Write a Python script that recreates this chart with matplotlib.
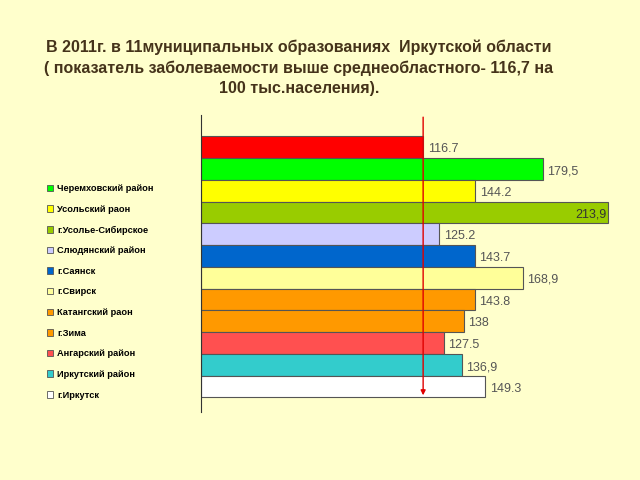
import matplotlib
matplotlib.use("Agg")
import matplotlib.pyplot as plt
from matplotlib.patches import Patch

plt.rcParams['font.family'] = ['Liberation Sans', 'DejaVu Sans']

# data, top bar first
values = [116.7, 179.5, 144.2, 213.9, 125.2, 143.7, 168.9, 143.8, 138, 127.5, 136.9, 149.3]
value_labels = ["116.7", "179,5", "144.2", "213,9", "125.2", "143.7", "168,9",
                "143.8", "138", "127.5", "136,9", "149.3"]
colors = ["#FF0000", "#00FF00", "#FFFF00", "#99CC00", "#CCCCFF", "#0066CC",
          "#FFFF99", "#FF9900", "#FF9900", "#FF5050", "#33CCCC", "#FFFFFF"]
# legend only covers the districts (bars 2..12)
districts = ["Черемховский район", "Усольский раон", "г.Усолье-Сибирское",
             "Слюдянский район", "г.Саянск", "г.Свирск", "Катангский раон",
             "г.Зима", "Ангарский район", "Иркутский район", "г.Иркутск"]
mean_value = 116.7

bg = "#FFFFCC"
fig = plt.figure(figsize=(6.4, 4.8), dpi=100, facecolor=bg)
ax = fig.add_axes([0.314, 0.142, 0.647, 0.618])
ax.set_facecolor(bg)

pos = list(range(len(values)))
ax.barh(pos, values, height=1.0, color=colors, edgecolor="#555555", linewidth=0.8)

for i, (v, lab) in enumerate(zip(values, value_labels)):
    if v > 200:
        ax.text(v - 1, i + 0.1, lab, ha="right", va="center", fontsize=9, color="#333333")
    else:
        ax.text(v + 2.5, i + 0.1, lab, ha="left", va="center", fontsize=9, color="#555555")

# red arrow at the regional mean
ax.annotate("", xy=(mean_value, 11.4), xytext=(mean_value, -1.38),
            arrowprops=dict(arrowstyle="-|>", color="#E00000", lw=1.0,
                            mutation_scale=7, shrinkA=0, shrinkB=0))

ax.set_xlim(0, 217.5)
ax.set_ylim(12.16, -1.47)
for s in ["top", "right", "bottom"]:
    ax.spines[s].set_visible(False)
ax.spines["left"].set_color("#333333")
ax.set_xticks([])
ax.set_yticks([])

handles = [Patch(facecolor=c, edgecolor="#555555", linewidth=0.6) for c in colors[1:]]
fig.legend(handles, districts, loc="upper left", bbox_to_anchor=(0.066, 0.626),
           frameon=False, prop=dict(size=6.7, weight="bold"), handlelength=0.7,
           handleheight=0.7, handletextpad=0.4, labelspacing=1.25, borderpad=0)

title = ("В 2011г. в 11муниципальных образованиях  Иркутской области\n"
         "( показатель заболеваемости выше среднеобластного- 116,7 на\n"
         "100 тыс.населения).")
fig.text(0.467, 0.917, title, ha="center", va="top", fontsize=11.5,
         fontweight="bold", color="#45331A", linespacing=1.42)

fig.savefig("out.png", dpi=100, facecolor=bg)
